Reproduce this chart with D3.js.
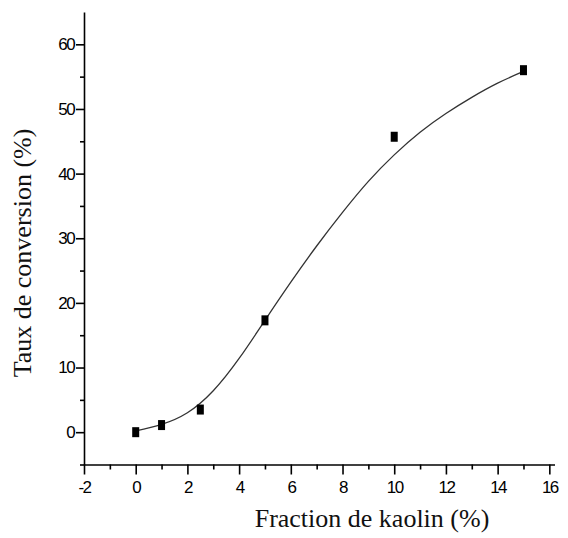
<!DOCTYPE html>
<meta charset="utf-8">
<style>
body { margin: 0; background: #fff; }
.axis text { font-family: "Liberation Sans", Arial, sans-serif; font-size: 17px; letter-spacing: -1.6px; fill: #000; }
.axis path, .axis line { stroke: #000; stroke-width: 1.6px; }
.title { font-family: "Liberation Serif", "Times New Roman", serif; font-size: 26px; fill: #111; }
</style>
<svg width="568" height="538"></svg>
<script src="https://d3js.org/d3.v7.min.js"></script>
<script>
// measured points
var kaolin = [0, 1, 2.5, 5, 10, 15];
var conversion = [0, 1.1, 3.5, 17.3, 45.7, 56];

// fitted curve
var fitX = [0, 1, 2, 3, 4, 5, 6, 7, 8, 9, 10, 11, 12, 13, 14, 15];
var fitY = [0.2, 1.2, 3.0, 6.4, 11.4, 17.3, 23.2, 28.8, 34, 38.8, 42.9, 46.4, 49.3, 51.8, 54, 55.8];

var xMajor = [-2, 0, 2, 4, 6, 8, 10, 12, 14, 16];
var xMinor = [-1, 1, 3, 5, 7, 9, 11, 13, 15];
var yMajor = [0, 10, 20, 30, 40, 50, 60];
var yMinor = [-5, 5, 15, 25, 35, 45, 55];

var svg = d3.select("svg");

var x = d3.scaleLinear().domain([-2, 16.2]).range([84, 554.5]);
var y = d3.scaleLinear().domain([-5, 65]).range([464.5, 12]);

// minor ticks first
svg.append("g")
    .attr("class", "axis")
    .attr("transform", "translate(0," + y(-5) + ")")
    .call(d3.axisBottom(x).tickValues(xMinor).tickSize(5).tickFormat(""))
    .select(".domain").remove();

svg.append("g")
    .attr("class", "axis")
    .attr("transform", "translate(" + x(-2) + ",0)")
    .call(d3.axisLeft(y).tickValues(yMinor).tickSize(4).tickFormat(""))
    .select(".domain").remove();

svg.append("g")
    .attr("class", "axis")
    .attr("transform", "translate(0," + y(-5) + ")")
    .call(d3.axisBottom(x).tickValues(xMajor).tickSize(10).tickSizeOuter(0).tickPadding(6).tickFormat(function(d) { return String(d); }));

svg.append("g")
    .attr("class", "axis")
    .attr("transform", "translate(" + x(-2) + ",0)")
    .call(d3.axisLeft(y).tickValues(yMajor).tickSize(8).tickSizeOuter(0).tickPadding(2).tickFormat(function(d) { return String(d); }));

var line = d3.line()
    .x(function(d, i) { return x(fitX[i]); })
    .y(function(d, i) { return y(fitY[i]); })
    .curve(d3.curveNatural);

svg.append("path")
    .attr("d", line(fitX))
    .attr("fill", "none")
    .attr("stroke", "#333")
    .attr("stroke-width", 1.3);

svg.selectAll(".pt")
    .data(kaolin)
    .enter().append("rect")
    .attr("class", "pt")
    .attr("x", function(d) { return x(d) - 3.5; })
    .attr("y", function(d, i) { return y(conversion[i]) - 5; })
    .attr("width", 7)
    .attr("height", 10)
    .attr("fill", "#000");

svg.append("text")
    .attr("class", "title")
    .attr("x", 372)
    .attr("y", 527)
    .attr("text-anchor", "middle")
    .text("Fraction de kaolin (%)");

svg.append("text")
    .attr("class", "title")
    .attr("transform", "translate(31,253) rotate(-90)")
    .attr("text-anchor", "middle")
    .text("Taux de conversion (%)");
</script>
